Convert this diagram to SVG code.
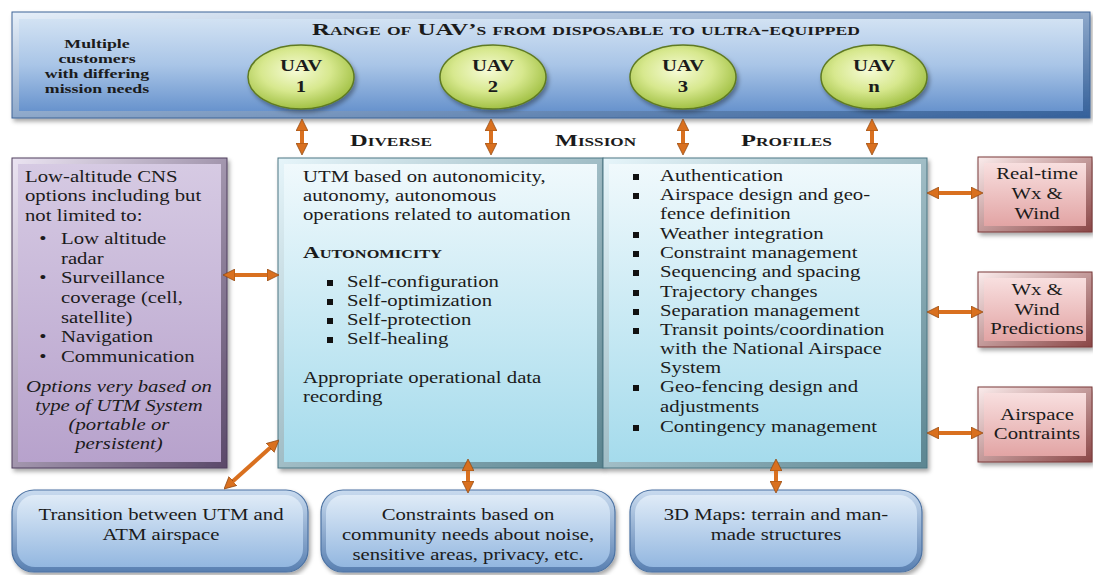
<svg xmlns="http://www.w3.org/2000/svg" width="1093" height="575" viewBox="0 0 1093 575">
<defs>
<style>
.t{font-family:"Liberation Serif","Times New Roman",serif;font-size:17px;fill:#1b1b1b}
.b{font-weight:bold}
.u{font-weight:bold;font-size:13.5px}
.sc{font-variant:small-caps;font-weight:bold}
.i{font-style:italic}
.m{text-anchor:middle}
.arr{stroke:#d9701f;stroke-width:4;fill:none;marker-start:url(#ah);marker-end:url(#ah)}
.sq{fill:#111}
</style>
<filter id="sh" x="-10%" y="-10%" width="120%" height="130%"><feDropShadow dx="2" dy="3" stdDeviation="2" flood-color="#000" flood-opacity="0.35"/></filter>
<marker id="ah" viewBox="0 0 10 10" refX="3" refY="5" markerWidth="3" markerHeight="3.2" markerUnits="strokeWidth" orient="auto-start-reverse"><path d="M0,0 L10,5 L0,10 Z" fill="#d9701f" stroke="#8c4510" stroke-width="0.6"/></marker>
<linearGradient id="banEdge" x1="0" y1="0" x2="1" y2="1"><stop offset="0" stop-color="#e6eff9"/><stop offset="1" stop-color="#34609a"/></linearGradient>
<linearGradient id="banFace" x1="0" y1="0" x2="0" y2="1"><stop offset="0" stop-color="#d2e2f3"/><stop offset="0.5" stop-color="#a9c5e7"/><stop offset="1" stop-color="#6893cd"/></linearGradient>
<linearGradient id="cyEdge" x1="0" y1="0" x2="1" y2="1"><stop offset="0" stop-color="#e6f5fa"/><stop offset="1" stop-color="#5b8591"/></linearGradient>
<linearGradient id="cyFace" x1="0" y1="0" x2="0" y2="1"><stop offset="0" stop-color="#f0f9fc"/><stop offset="1" stop-color="#a5dbec"/></linearGradient>
<linearGradient id="puEdge" x1="0" y1="0" x2="1" y2="1"><stop offset="0" stop-color="#ebe4f2"/><stop offset="1" stop-color="#5a4869"/></linearGradient>
<linearGradient id="puFace" x1="0" y1="0" x2="0" y2="1"><stop offset="0" stop-color="#d6cae3"/><stop offset="1" stop-color="#b7a2cc"/></linearGradient>
<linearGradient id="pkEdge" x1="0" y1="0" x2="1" y2="1"><stop offset="0" stop-color="#fbecec"/><stop offset="1" stop-color="#8a4646"/></linearGradient>
<linearGradient id="pkFace" x1="0" y1="0" x2="0" y2="1"><stop offset="0" stop-color="#f8dfdf"/><stop offset="1" stop-color="#e2a4a4"/></linearGradient>
<linearGradient id="blEdge" x1="0" y1="0" x2="0" y2="1"><stop offset="0" stop-color="#c9dbef"/><stop offset="1" stop-color="#587fb1"/></linearGradient>
<linearGradient id="blFace" x1="0" y1="0" x2="0" y2="1"><stop offset="0" stop-color="#dfebf7"/><stop offset="1" stop-color="#93b7e0"/></linearGradient>
<radialGradient id="uav" cx="0.45" cy="0.4" r="0.6"><stop offset="0" stop-color="#f6fbd6"/><stop offset="0.55" stop-color="#d7e88e"/><stop offset="1" stop-color="#a2c145"/></radialGradient>
</defs>
<rect width="1093" height="575" fill="#ffffff"/>

<g id="banner">
<rect x="12" y="12" width="1078" height="106" fill="url(#banEdge)" stroke="#3f6597" stroke-width="1" filter="url(#sh)"/>
<rect x="19" y="19" width="1064" height="92" fill="url(#banFace)"/>
<text class="t sc" x="312" y="35" font-size="16" textLength="548" lengthAdjust="spacingAndGlyphs">Range of UAV’s from disposable to ultra-equipped</text>
<g transform="translate(97,0) scale(1.32,1)">
<text class="t u m" x="0" y="48">Multiple</text>
<text class="t u m" x="0" y="63">customers</text>
<text class="t u m" x="0" y="78">with differing</text>
<text class="t u m" x="0" y="93">mission needs</text>
</g>
</g>

<g id="uav1">
<ellipse cx="301" cy="77" rx="53" ry="32" fill="url(#uav)" stroke="#5f7a22" stroke-width="1.5" filter="url(#sh)"/>
<g transform="translate(301,0) scale(1.22,1)"><text class="t b m" font-size="16" x="0" y="71">UAV</text><text class="t b m" font-size="16" x="0" y="92">1</text></g>
</g>
<g id="uav2">
<ellipse cx="493" cy="77" rx="53" ry="32" fill="url(#uav)" stroke="#5f7a22" stroke-width="1.5" filter="url(#sh)"/>
<g transform="translate(493,0) scale(1.22,1)"><text class="t b m" font-size="16" x="0" y="71">UAV</text><text class="t b m" font-size="16" x="0" y="92">2</text></g>
</g>
<g id="uav3">
<ellipse cx="683" cy="77" rx="53" ry="32" fill="url(#uav)" stroke="#5f7a22" stroke-width="1.5" filter="url(#sh)"/>
<g transform="translate(683,0) scale(1.22,1)"><text class="t b m" font-size="16" x="0" y="71">UAV</text><text class="t b m" font-size="16" x="0" y="92">3</text></g>
</g>
<g id="uavn">
<ellipse cx="874" cy="77" rx="53" ry="32" fill="url(#uav)" stroke="#5f7a22" stroke-width="1.5" filter="url(#sh)"/>
<g transform="translate(874,0) scale(1.22,1)"><text class="t b m" font-size="16" x="0" y="71">UAV</text><text class="t b m" font-size="16" x="0" y="92">n</text></g>
</g>

<g id="profiles-label">
<text class="t sc" x="350" y="146" textLength="82" lengthAdjust="spacingAndGlyphs">Diverse</text>
<text class="t sc" x="555" y="146" textLength="81" lengthAdjust="spacingAndGlyphs">Mission</text>
<text class="t sc" x="741" y="146" textLength="91" lengthAdjust="spacingAndGlyphs">Profiles</text>
</g>

<g id="cns">
<rect x="12" y="158" width="215" height="310" fill="url(#puEdge)" stroke="#4f3f5e" stroke-width="1" filter="url(#sh)"/>
<rect x="18" y="164" width="203" height="298" fill="url(#puFace)"/>
<g transform="translate(25,0) scale(1.22,1)">
<text class="t" x="0" y="182">Low-altitude CNS</text>
<text class="t" x="0" y="201">options including but</text>
<text class="t" x="0" y="221">not limited to:</text>
<text class="t m" x="14.75" y="244">•</text><text class="t" x="29.5" y="244">Low altitude</text>
<text class="t" x="29.5" y="264">radar</text>
<text class="t m" x="14.75" y="283">•</text><text class="t" x="29.5" y="283">Surveillance</text>
<text class="t" x="29.5" y="303">coverage (cell,</text>
<text class="t" x="29.5" y="323">satellite)</text>
<text class="t m" x="14.75" y="342">•</text><text class="t" x="29.5" y="342">Navigation</text>
<text class="t m" x="14.75" y="362">•</text><text class="t" x="29.5" y="362">Communication</text>
<text class="t i m" x="77" y="392">Options very based on</text>
<text class="t i m" x="77" y="411">type of UTM System</text>
<text class="t i m" x="77" y="430">(portable or</text>
<text class="t i m" x="77" y="449">persistent)</text>
</g>
</g>

<g id="utm">
<rect x="278" y="158" width="325" height="310" fill="url(#cyEdge)" stroke="#4d7683" stroke-width="1" filter="url(#sh)"/>
<rect x="284" y="164" width="313" height="298" fill="url(#cyFace)"/>
<g transform="translate(303,0) scale(1.22,1)">
<text class="t" x="0" y="182">UTM based on autonomicity,</text>
<text class="t" x="0" y="201">autonomy, autonomous</text>
<text class="t" x="0" y="220">operations related to automation</text>
<text class="t" x="36.07" y="287">Self-configuration</text>
<text class="t" x="36.07" y="306">Self-optimization</text>
<text class="t" x="36.07" y="325">Self-protection</text>
<text class="t" x="36.07" y="344">Self-healing</text>
<text class="t" x="0" y="383">Appropriate operational data</text>
<text class="t" x="0" y="402">recording</text>
</g>
<text class="t sc" x="303" y="258" textLength="139" lengthAdjust="spacingAndGlyphs">Autonomicity</text>
<rect class="sq" x="327" y="280" width="6" height="6"/>
<rect class="sq" x="327" y="299" width="6" height="6"/>
<rect class="sq" x="327" y="318" width="6" height="6"/>
<rect class="sq" x="327" y="337" width="6" height="6"/>
</g>

<g id="functions">
<rect x="603" y="158" width="324" height="310" fill="url(#cyEdge)" stroke="#4d7683" stroke-width="1" filter="url(#sh)"/>
<rect x="609" y="164" width="312" height="298" fill="url(#cyFace)"/>
<g transform="translate(660,0) scale(1.22,1)">
<text class="t" x="0" y="181">Authentication</text>
<text class="t" x="0" y="200">Airspace design and geo-</text>
<text class="t" x="0" y="219">fence definition</text>
<text class="t" x="0" y="239">Weather integration</text>
<text class="t" x="0" y="258">Constraint management</text>
<text class="t" x="0" y="277">Sequencing and spacing</text>
<text class="t" x="0" y="297">Trajectory changes</text>
<text class="t" x="0" y="316">Separation management</text>
<text class="t" x="0" y="335">Transit points/coordination</text>
<text class="t" x="0" y="354">with the National Airspace</text>
<text class="t" x="0" y="373">System</text>
<text class="t" x="0" y="392">Geo-fencing design and</text>
<text class="t" x="0" y="412">adjustments</text>
<text class="t" x="0" y="432">Contingency management</text>
</g>
<rect class="sq" x="633" y="174" width="6" height="6"/>
<rect class="sq" x="633" y="193" width="6" height="6"/>
<rect class="sq" x="633" y="232" width="6" height="6"/>
<rect class="sq" x="633" y="251" width="6" height="6"/>
<rect class="sq" x="633" y="270" width="6" height="6"/>
<rect class="sq" x="633" y="290" width="6" height="6"/>
<rect class="sq" x="633" y="309" width="6" height="6"/>
<rect class="sq" x="633" y="328" width="6" height="6"/>
<rect class="sq" x="633" y="385" width="6" height="6"/>
<rect class="sq" x="633" y="425" width="6" height="6"/>
</g>

<g id="wx-realtime">
<rect x="978" y="157" width="114" height="75" fill="url(#pkEdge)" stroke="#7a3a3a" stroke-width="1" filter="url(#sh)"/>
<rect x="984" y="163" width="102" height="63" fill="url(#pkFace)"/>
<g transform="translate(1037,0) scale(1.22,1)">
<text class="t m" x="0" y="179">Real-time</text>
<text class="t m" x="0" y="199">Wx &amp;</text>
<text class="t m" x="0" y="219">Wind</text>
</g>
</g>
<g id="wx-predictions">
<rect x="978" y="272" width="114" height="75" fill="url(#pkEdge)" stroke="#7a3a3a" stroke-width="1" filter="url(#sh)"/>
<rect x="984" y="278" width="102" height="63" fill="url(#pkFace)"/>
<g transform="translate(1037,0) scale(1.22,1)">
<text class="t m" x="0" y="295">Wx &amp;</text>
<text class="t m" x="0" y="315">Wind</text>
<text class="t m" x="0" y="334">Predictions</text>
</g>
</g>
<g id="airspace-constraints">
<rect x="978" y="387" width="114" height="75" fill="url(#pkEdge)" stroke="#7a3a3a" stroke-width="1" filter="url(#sh)"/>
<rect x="984" y="393" width="102" height="63" fill="url(#pkFace)"/>
<g transform="translate(1037,0) scale(1.22,1)">
<text class="t m" x="0" y="420">Airspace</text>
<text class="t m" x="0" y="439">Contraints</text>
</g>
</g>

<g id="transition">
<rect x="12" y="490" width="296" height="82" rx="22" fill="url(#blEdge)" stroke="#4d73a3" stroke-width="1.2" filter="url(#sh)"/>
<rect x="17" y="495" width="286" height="72" rx="18" fill="url(#blFace)"/>
<g transform="translate(161,0) scale(1.22,1)">
<text class="t m" x="0" y="520">Transition between UTM and</text>
<text class="t m" x="0" y="540">ATM airspace</text>
</g>
</g>
<g id="community">
<rect x="321" y="490" width="294" height="82" rx="22" fill="url(#blEdge)" stroke="#4d73a3" stroke-width="1.2" filter="url(#sh)"/>
<rect x="326" y="495" width="284" height="72" rx="18" fill="url(#blFace)"/>
<g transform="translate(468,0) scale(1.22,1)">
<text class="t m" x="0" y="520">Constraints based on</text>
<text class="t m" x="0" y="540">community needs about noise,</text>
<text class="t m" x="0" y="560">sensitive areas, privacy, etc.</text>
</g>
</g>
<g id="maps3d">
<rect x="630" y="490" width="292" height="82" rx="22" fill="url(#blEdge)" stroke="#4d73a3" stroke-width="1.2" filter="url(#sh)"/>
<rect x="635" y="495" width="282" height="72" rx="18" fill="url(#blFace)"/>
<g transform="translate(776,0) scale(1.22,1)">
<text class="t m" x="0" y="520">3D Maps: terrain and man-</text>
<text class="t m" x="0" y="540">made structures</text>
</g>
</g>

<g id="connectors">
<line class="arr" x1="302" y1="127.4" x2="302" y2="146.6"/>
<line class="arr" x1="491" y1="127.4" x2="491" y2="146.6"/>
<line class="arr" x1="683" y1="127.4" x2="683" y2="146.6"/>
<line class="arr" x1="872" y1="127.4" x2="872" y2="146.6"/>
<line class="arr" x1="231.4" y1="275" x2="270.6" y2="275"/>
<line class="arr" x1="230.3" y1="483.4" x2="272.7" y2="445.6"/>
<line class="arr" x1="468" y1="467.4" x2="468" y2="484.6"/>
<line class="arr" x1="776" y1="467.4" x2="776" y2="484.6"/>
<line class="arr" x1="935.4" y1="193" x2="974.6" y2="193"/>
<line class="arr" x1="935.4" y1="312" x2="974.6" y2="312"/>
<line class="arr" x1="935.4" y1="433" x2="974.6" y2="433"/>
</g>
</svg>
